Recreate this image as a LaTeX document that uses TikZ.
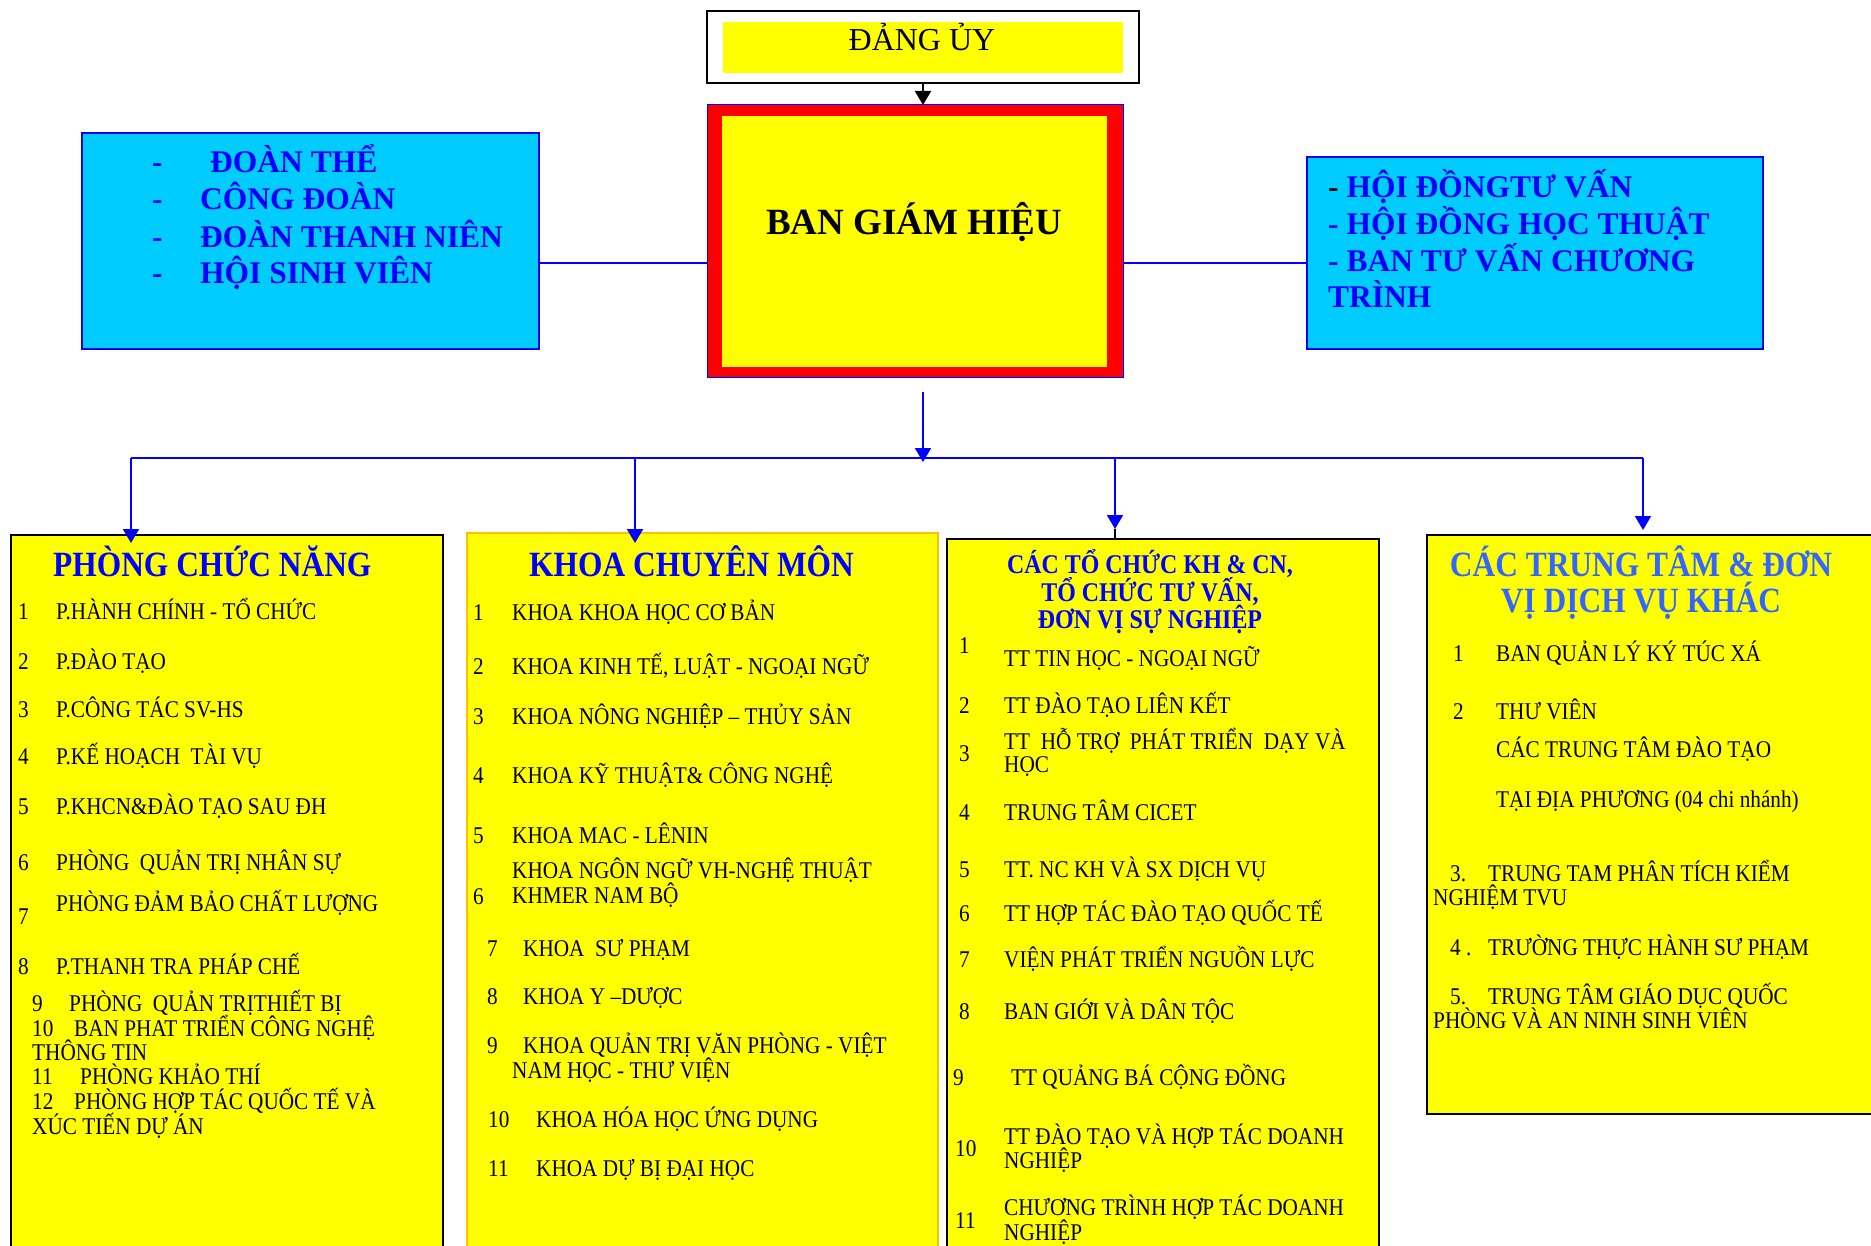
\documentclass[tikz,border=0pt]{standalone}
\usepackage{fontspec}
\setmainfont{Liberation Serif}
\newfontfamily\widefont[FakeStretch=0.885]{Liberation Serif}
\usetikzlibrary{arrows.meta}
\definecolor{ylw}{RGB}{255,255,0}
\definecolor{cyn}{RGB}{0,204,255}
\definecolor{bl}{RGB}{0,0,255}
\definecolor{lbl}{RGB}{51,102,255}
\definecolor{gld}{RGB}{255,192,0}
\definecolor{rd}{RGB}{255,0,0}
\newcommand\itf{\widefont\fontsize{24}{24}\selectfont}
\newcommand\ttlf{\widefont\bfseries\fontsize{35.5}{35.5}\selectfont}
\newcommand\hdf{\widefont\bfseries\fontsize{27}{27}\selectfont}
\newcommand\topf{\bfseries\fontsize{31.5}{31.5}\selectfont}
\tikzset{
  rbox/.style={draw, anchor=north west, inner sep=0, outer sep=0},
  it/.style={inner sep=0, anchor=base west, font=\itf, text=black},
  ttl/.style={inner sep=0, anchor=base west, font=\ttlf, text=bl},
  hd/.style={inner sep=0, anchor=base, font=\hdf, text=bl},
  tp/.style={inner sep=0, anchor=base west, font=\topf, text=bl},
  bline/.style={draw=bl, line width=2pt},
  barrow/.style={bline, -{Triangle[width=16pt,length=14pt]}},
}
\begin{document}
\begin{tikzpicture}[x=1pt,y=-1pt]
\useasboundingbox (0,0) rectangle (1871,1246);
\clip (0,0) rectangle (1871,1246);
\fill[white] (0,0) rectangle (1871,1246);

% ---- top: DANG UY
\node[rbox, line width=2.5pt, fill=white, minimum width=432, minimum height=72] (dang) at (707,11) {};
\node[rbox, draw=none, fill=ylw, minimum width=400, minimum height=51] (dangin) at (723,22) {};
\node[inner sep=0, anchor=base, font=\fontsize{32}{32}\selectfont] (dangt) at (922,51) {ĐẢNG ỦY};

% ---- BAN GIAM HIEU
\node[rbox, draw=bl, line width=1pt, fill=rd, minimum width=416, minimum height=273] (bgh) at (707,105) {};
\node[rbox, draw=none, fill=ylw, minimum width=385, minimum height=251] (bghin) at (722,116) {};
\node[inner sep=0, anchor=base, font=\bfseries\fontsize{37}{37}\selectfont] (bght) at (914,235) {BAN GIÁM HIỆU};

% ---- left blue box
\node[rbox, draw=bl, line width=2pt, fill=cyn, minimum width=457, minimum height=216] (lbox) at (82,133) {};
\node[tp] (ld1) at (152,173) {-};
\node[tp] (lt1) at (210,173) {ĐOÀN THỂ};
\node[tp] (ld2) at (152,210) {-};
\node[tp] (lt2) at (200,210) {CÔNG ĐOÀN};
\node[tp] (ld3) at (152,248) {-};
\node[tp] (lt3) at (200,248) {ĐOÀN THANH NIÊN};
\node[tp] (ld4) at (152,284) {-};
\node[tp] (lt4) at (200,284) {HỘI SINH VIÊN};

% ---- right blue box
\node[rbox, draw=bl, line width=2pt, fill=cyn, minimum width=456, minimum height=192] (rbx) at (1307,157) {};
\node[tp] (rt1) at (1328,198) {\textcolor{black}{-} HỘI ĐỒNGTƯ VẤN};
\node[tp] (rt2) at (1328,235) {- HỘI ĐỒNG HỌC THUẬT};
\node[tp] (rt3) at (1328,272) {- BAN TƯ VẤN CHƯƠNG};
\node[tp] (rt4) at (1328,308) {TRÌNH};

% ---- bottom boxes
\node[rbox, line width=2pt, fill=ylw, minimum width=432, minimum height=740] (b1) at (11,535) {};
\node[rbox, draw=gld, line width=2pt, fill=ylw, minimum width=471, minimum height=740] (b2) at (467,533) {};
\node[rbox, line width=2.5pt, fill=ylw, minimum width=432, minimum height=740] (b3) at (947,539) {};
\node[rbox, line width=2.5pt, fill=ylw, minimum width=460, minimum height=579] (b4) at (1427,535) {};

% ---- connectors
\coordinate (yc) at (0,263);
\draw[bline] (lbox.east |- yc) -- (bgh.west |- yc);
\draw[bline] (bgh.east |- yc) -- (rbx.west |- yc);
\draw[black, line width=2pt, -{Triangle[width=16pt,length=14pt]}] (dang.south) -- (dang.south |- bgh.north);
\coordinate (dtop) at (923,392);
\coordinate (dtip) at (923,462);
\coordinate (busL) at (131,458);
\coordinate (busR) at (1643,458);
\coordinate (bus2) at (635,458);
\coordinate (bus3) at (1115,458);
\draw[bline] (busL) -- (busR);
\draw[barrow] (dtop) -- (dtip);
\coordinate (t1) at (131,543);
\coordinate (t2) at (635,543);
\coordinate (t3) at (1115,529);
\coordinate (t4) at (1643,530);
\draw[barrow] (busL) -- (t1);
\draw[barrow] (bus2) -- (t2);
\draw[barrow] (bus3) -- (t3);
\draw[barrow] (busR) -- (t4);
\draw[black, line width=2pt] (t3) -- (t3 |- b3.north);

% ---- box 1 text
\node[ttl] (b1h) at (53,576) {PHÒNG CHỨC NĂNG};
\node[it] (p1n) at (18,619) {1};
\node[it] (p1t) at (56,619) {P.HÀNH CHÍNH - TỔ CHỨC};
\node[it] (p2n) at (18,669) {2};
\node[it] (p2t) at (56,669) {P.ĐÀO TẠO};
\node[it] (p3n) at (18,717) {3};
\node[it] (p3t) at (56,717) {P.CÔNG TÁC SV-HS};
\node[it] (p4n) at (18,764) {4};
\node[it] (p4t) at (56,764) {P.KẾ HOẠCH\ \ TÀI VỤ};
\node[it] (p5n) at (18,814) {5};
\node[it] (p5t) at (56,814) {P.KHCN\&ĐÀO TẠO SAU ĐH};
\node[it] (p6n) at (18,870) {6};
\node[it] (p6t) at (56,870) {PHÒNG\ \ QUẢN TRỊ NHÂN SỰ};
\node[it] (p7n) at (18,924) {7};
\node[it] (p7t) at (56,911) {PHÒNG ĐẢM BẢO CHẤT LƯỢNG};
\node[it] (p8n) at (18,974) {8};
\node[it] (p8t) at (56,974) {P.THANH TRA PHÁP CHẾ};
\node[it] (p9n) at (32,1011) {9};
\node[it] (p9t) at (69,1011) {PHÒNG\ \ QUẢN TRỊTHIẾT BỊ};
\node[it] (p10n) at (32,1036) {10};
\node[it] (p10t) at (74,1036) {BAN PHAT TRIỂN CÔNG NGHỆ};
\node[it] (p10u) at (32,1060) {THÔNG TIN};
\node[it] (p11n) at (32,1084) {11};
\node[it] (p11t) at (80,1084) {PHÒNG KHẢO THÍ};
\node[it] (p12n) at (32,1109) {12};
\node[it] (p12t) at (74,1109) {PHÒNG HỢP TÁC QUỐC TẾ VÀ};
\node[it] (p12u) at (32,1134) {XÚC TIẾN DỰ ÁN};

% ---- box 2 text
\node[ttl] (b2h) at (529,576) {KHOA CHUYÊN MÔN};
\node[it] (k1n) at (473,620) {1};
\node[it] (k1t) at (512,620) {KHOA KHOA HỌC CƠ BẢN};
\node[it] (k2n) at (473,674) {2};
\node[it] (k2t) at (512,674) {KHOA KINH TẾ, LUẬT - NGOẠI NGỮ};
\node[it] (k3n) at (473,724) {3};
\node[it] (k3t) at (512,724) {KHOA NÔNG NGHIỆP – THỦY SẢN};
\node[it] (k4n) at (473,783) {4};
\node[it] (k4t) at (512,783) {KHOA KỸ THUẬT\& CÔNG NGHỆ};
\node[it] (k5n) at (473,843) {5};
\node[it] (k5t) at (512,843) {KHOA MAC - LÊNIN};
\node[it] (k6n) at (473,904) {6};
\node[it] (k6t) at (512,878) {KHOA NGÔN NGỮ VH-NGHỆ THUẬT};
\node[it] (k6u) at (512,903) {KHMER NAM BỘ};
\node[it] (k7n) at (487,956) {7};
\node[it] (k7t) at (523,956) {KHOA\ \ SƯ PHẠM};
\node[it] (k8n) at (487,1004) {8};
\node[it] (k8t) at (523,1004) {KHOA Y –DƯỢC};
\node[it] (k9n) at (487,1053) {9};
\node[it] (k9t) at (523,1053) {KHOA QUẢN TRỊ VĂN PHÒNG - VIỆT};
\node[it] (k9u) at (512,1078) {NAM HỌC - THƯ VIỆN};
\node[it] (k10n) at (488,1127) {10};
\node[it] (k10t) at (536,1127) {KHOA HÓA HỌC ỨNG DỤNG};
\node[it] (k11n) at (488,1176) {11};
\node[it] (k11t) at (536,1176) {KHOA DỰ BỊ ĐẠI HỌC};

% ---- box 3 text
\node[hd] (b3h1) at (1150,573) {CÁC TỔ CHỨC KH \& CN,};
\node[hd] (b3h2) at (1150,601) {TỔ CHỨC TƯ VẤN,};
\node[hd] (b3h3) at (1150,628) {ĐƠN VỊ SỰ NGHIỆP};
\node[it] (c1n) at (959,653) {1};
\node[it] (c1t) at (1004,666) {TT TIN HỌC - NGOẠI NGỮ};
\node[it] (c2n) at (959,713) {2};
\node[it] (c2t) at (1004,713) {TT ĐÀO TẠO LIÊN KẾT};
\node[it] (c3n) at (959,761) {3};
\node[it] (c3t) at (1004,749) {TT\ \ HỖ TRỢ\ \ PHÁT TRIỂN\ \ DẠY VÀ};
\node[it] (c3u) at (1004,772) {HỌC};
\node[it] (c4n) at (959,820) {4};
\node[it] (c4t) at (1004,820) {TRUNG TÂM CICET};
\node[it] (c5n) at (959,877) {5};
\node[it] (c5t) at (1004,877) {TT. NC KH VÀ SX DỊCH VỤ};
\node[it] (c6n) at (959,921) {6};
\node[it] (c6t) at (1004,921) {TT HỢP TÁC ĐÀO TẠO QUỐC TẾ};
\node[it] (c7n) at (959,967) {7};
\node[it] (c7t) at (1004,967) {VIỆN PHÁT TRIỂN NGUỒN LỰC};
\node[it] (c8n) at (959,1019) {8};
\node[it] (c8t) at (1004,1019) {BAN GIỚI VÀ DÂN TỘC};
\node[it] (c9n) at (953,1085) {9};
\node[it] (c9t) at (1011,1085) {TT QUẢNG BÁ CỘNG ĐỒNG};
\node[it] (c10n) at (955,1156) {10};
\node[it] (c10t) at (1004,1144) {TT ĐÀO TẠO VÀ HỢP TÁC DOANH};
\node[it] (c10u) at (1004,1168) {NGHIỆP};
\node[it] (c11n) at (955,1228) {11};
\node[it] (c11t) at (1004,1215) {CHƯƠNG TRÌNH HỢP TÁC DOANH};
\node[it] (c11u) at (1004,1240) {NGHIỆP};

% ---- box 4 text
\node[hd, font=\ttlf, text=lbl] (b4h1) at (1641,576) {CÁC TRUNG TÂM \& ĐƠN};
\node[hd, font=\ttlf, text=lbl] (b4h2) at (1641,612) {VỊ DỊCH VỤ KHÁC};
\node[it] (d1n) at (1453,661) {1};
\node[it] (d1t) at (1496,661) {BAN QUẢN LÝ KÝ TÚC XÁ};
\node[it] (d2n) at (1453,719) {2};
\node[it] (d2t) at (1496,719) {THƯ VIÊN};
\node[it] (d2u) at (1496,757) {CÁC TRUNG TÂM ĐÀO TẠO};
\node[it] (d2v) at (1496,807) {TẠI ĐỊA PHƯƠNG (04 chi nhánh)};
\node[it] (d3n) at (1450,881) {3.};
\node[it] (d3t) at (1488,881) {TRUNG TAM PHÂN TÍCH KIỂM};
\node[it] (d3u) at (1433,905) {NGHIỆM TVU};
\node[it] (d4n) at (1450,955) {4 .};
\node[it] (d4t) at (1488,955) {TRƯỜNG THỰC HÀNH SƯ PHẠM};
\node[it] (d5n) at (1450,1004) {5.};
\node[it] (d5t) at (1488,1004) {TRUNG TÂM GIÁO DỤC QUỐC};
\node[it] (d5u) at (1433,1028) {PHÒNG VÀ AN NINH SINH VIÊN};
\end{tikzpicture}
\end{document}
